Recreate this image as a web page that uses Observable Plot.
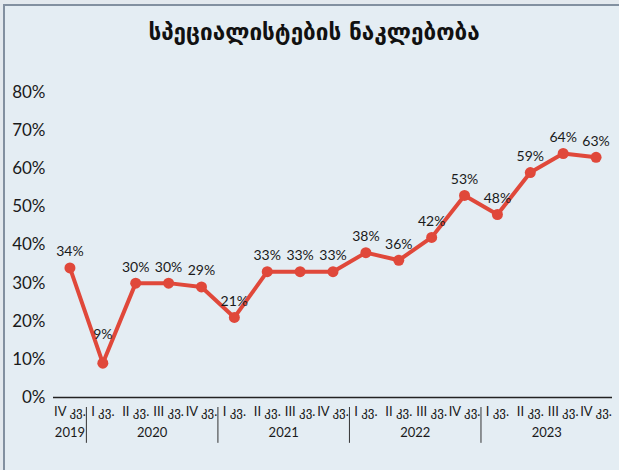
<!DOCTYPE html>
<html><head><meta charset="utf-8">
<script src="https://cdn.jsdelivr.net/npm/d3@7"></script>
<script src="https://cdn.jsdelivr.net/npm/@observablehq/plot@0.6"></script>
<style>
html,body{margin:0;padding:0;background:#e3e9ee;width:619px;height:470px;overflow:hidden;position:relative}
#frame{position:absolute;left:3px;top:4px;right:0;bottom:0;background:#e4edf3;border-top:2px solid #8290a0;border-left:2px solid #8290a0;}
#title{position:absolute;left:0;width:628px;top:19px;text-align:center;font:bold 22.5px "DejaVu Sans",sans-serif;color:#111}
#chart{position:absolute;left:0;top:60px}
</style></head>
<body>
<div id="frame"></div>
<div id="title">სპეციალისტების ნაკლებობა</div>
<div id="chart"></div>
<script>
const quarters = ["IV","I","II","III","IV","I","II","III","IV","I","II","III","IV","I","II","III","IV"];
const years    = ["2019","2020","2020","2020","2020","2021","2021","2021","2021","2022","2022","2022","2022","2023","2023","2023","2023"];
const values   = [34,9,30,30,29,21,33,33,33,38,36,42,53,48,59,64,63];
const yTicks   = [0,10,20,30,40,50,60,70,80];

const data = values.map((v,i)=>({i, value:v, q:quarters[i], year:years[i]}));
const yearGroups = d3.groups(data, d=>d.year).map(([year, pts])=>({year, center:d3.mean(pts,p=>p.i), first:d3.min(pts,p=>p.i)}));
const separators = yearGroups.slice(1).map(g=>g.first-0.5);
const minValue = d3.min(values);

const red = "#e0483a";
const font = "Lato, 'DejaVu Sans', sans-serif";

const chart = Plot.plot({
  width: 619,
  height: 410,
  marginLeft: 53,
  marginRight: 7,
  marginTop: 32,
  marginBottom: 73,
  style: {background:"transparent", fontFamily: font, color:"#1a1a1a"},
  x: {type:"linear", domain:[-0.5, values.length-0.5], axis:null},
  y: {domain:[0,80], axis:null},
  marks: [
    Plot.axisY({ticks:yTicks, tickFormat:d=>d+"%", tickSize:0, tickPadding:8, fontSize:17, label:null}),
    Plot.ruleY([0], {stroke:"#222", strokeWidth:1.5}),
    Plot.lineY(data, {x:"i", y:"value", stroke:red, strokeWidth:4}),
    Plot.dot(data, {x:"i", y:"value", r:5.5, fill:red}),
    Plot.text(data.filter(d=>d.value!==minValue), {x:"i", y:"value", text:d=>d.value+"%", dy:-16, fontSize:14, fill:"#1a1a1a"}),
    Plot.text(data.filter(d=>d.value===minValue), {x:"i", y:"value", text:d=>d.value+"%", dy:-29, fontSize:14, fill:"#1a1a1a"}),
    Plot.text(data, {x:"i", text:d=>d.q+" კვ.", frameAnchor:"bottom", dy:18, fontSize:13, fill:"#1a1a1a"}),
    Plot.text(yearGroups, {x:"center", text:"year", frameAnchor:"bottom", dy:39, fontSize:13, fill:"#1a1a1a"}),
    Plot.ruleX(separators, {x:d=>d, y1:0, y2:-9.4, dy:10, stroke:"#333", strokeWidth:1})
  ]
});
document.getElementById("chart").append(chart);
</script>
</body></html>
